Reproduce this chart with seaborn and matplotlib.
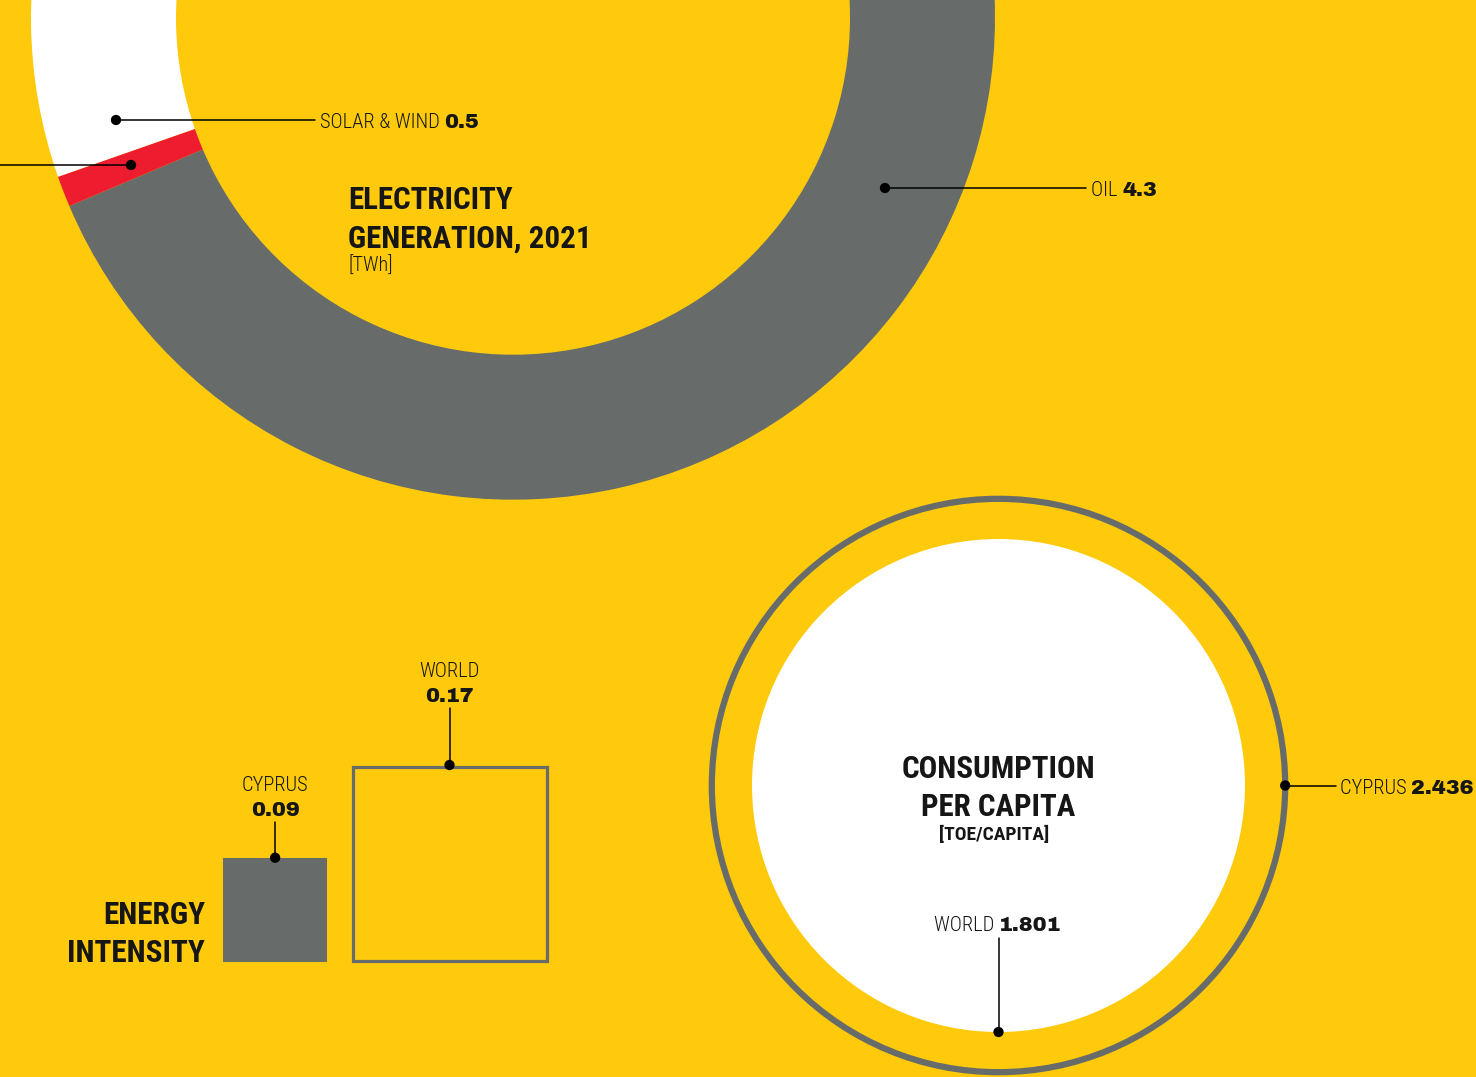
import numpy as np
import pandas as pd
import matplotlib
matplotlib.use("Agg")
import matplotlib.pyplot as plt
from matplotlib.patches import Rectangle, Circle
import seaborn as sns

# ---------------- data ----------------
gen_labels = ["OIL", "SOLAR & WIND", "OTHER"]
gen_values = [4.3, 0.5, 0.05]          # TWh, electricity generation 2021
gen_colors = ["#676C6B", "#FFFFFF", "#ED1C2E"]

intensity_labels = ["CYPRUS", "WORLD"]
intensity_values = [0.09, 0.17]

cons_labels = ["CYPRUS", "WORLD"]
cons_values = [2.436, 1.801]            # TOE / capita

# ---------------- style ----------------
YELLOW = "#FECA0B"
GRAY = "#676C6B"
INK = "#161616"
sns.set_style("white")
COND = ["Roboto Condensed", "Liberation Sans Narrow", "DejaVu Sans"]
NUM = ["Archivo Black", "DejaVu Sans"]
plt.rcParams["font.family"] = COND

LBL = 14.8   # label font size (pt)
NSZ = 15.0   # number font size (pt)
TSZ = 22.3   # title font size (pt)

W, H = 1476, 1077
fig = plt.figure(figsize=(W / 100, H / 100), dpi=100, facecolor=YELLOW)
ax = fig.add_axes([0, 0, 1, 1])
ax.set_facecolor(YELLOW)


def Y(py):
    return H - py


def name_text(x, base, s, ha="left", **kw):
    return ax.text(x, Y(base), s, fontsize=LBL, family=COND, fontweight=300, color=INK,
                   va="baseline", ha=ha, **kw)


def num_text(x, base, s, ha="left"):
    return ax.text(x, Y(base), s, fontsize=NSZ, family=NUM, color=INK,
                   va="baseline", ha=ha)


def label(x, base, name, value):
    t = name_text(x, base, name + " ")
    ax.annotate(value, xy=(1, 0), xycoords=t, xytext=(0, 0), textcoords="offset points",
                fontsize=NSZ, family=NUM, color=INK, va="bottom", ha="left")
    return t


def title(x, base, s, ha="left", size=TSZ):
    return ax.text(x, Y(base), s, fontsize=size, family=COND, fontweight="bold",
                   color=INK, va="baseline", ha=ha)


dots = []

# ---------------- donut: electricity generation ----------------
cx, cy, R, ring = 513, Y(17.7), 482, 145
ax.pie(gen_values, colors=gen_colors, startangle=203, counterclock=True,
       radius=R, center=(cx, cy), wedgeprops=dict(width=ring, linewidth=0))

dots += [(885, 188), (116, 120), (131, 165)]
ax.plot([885, 1086], [Y(188), Y(188)], color="black", lw=1.1)
ax.plot([116, 315], [Y(120), Y(120)], color="black", lw=1.1)
ax.plot([0, 131], [Y(165), Y(165)], color="black", lw=1.1)
label(1091, 195.5, gen_labels[0], f"{gen_values[0]}")
label(320, 127.5, gen_labels[1], f"{gen_values[1]}")

title(348, 209, "ELECTRICITY")
title(348, 248, "GENERATION, 2021")
ax.text(349, Y(272), "[TWh]", fontsize=14.5, family=COND, fontweight=300,
        color=INK, va="baseline", ha="left")

# ---------------- squares: energy intensity ----------------
k = 197 / 0.17
base = 962
lefts = [223, 351]
stems = [36, 57]
for i, v in enumerate(intensity_values):
    s = v * k
    if i == 0:
        ax.add_patch(Rectangle((lefts[i], Y(base)), s, s, facecolor=GRAY, edgecolor="none"))
    else:
        ax.add_patch(Rectangle((lefts[i] + 1.5, Y(base) + 1.5), s - 3, s - 3,
                               facecolor="none", edgecolor=GRAY, lw=2.3))
    xc = lefts[i] + s / 2
    top = base - s
    dots.append((xc, top))
    ax.plot([xc, xc], [Y(top), Y(top - stems[i])], color="black", lw=1.1)
    num_text(xc, top - stems[i] - 6, f"{v}", ha="center")
    name_text(xc, top - stems[i] - 31, intensity_labels[i], ha="center")

title(205, 924.5, "ENERGY", ha="right", size=22.5)
title(205, 961.5, "INTENSITY", ha="right", size=22.5)

# ---------------- circles: consumption per capita ----------------
ccx, ccy = 998.5, Y(785.5)
r_world = 246.5
r_cyp = r_world * np.sqrt(cons_values[0] / cons_values[1])
ax.add_patch(Circle((ccx, ccy), r_world, facecolor="white", edgecolor="none"))
ax.add_patch(Circle((ccx, ccy), r_cyp, facecolor="none", edgecolor=GRAY, lw=4.5))

dots.append((ccx + r_cyp, H - ccy))
dots.append((ccx, H - (ccy - r_world)))
ax.plot([ccx + r_cyp, ccx + r_cyp + 51], [ccy, ccy], color="black", lw=1.1)
label(ccx + r_cyp + 55, 794, cons_labels[0], f"{cons_values[0]}")
ax.plot([ccx, ccx], [ccy - r_world, Y(938)], color="black", lw=1.1)
tw = name_text(ccx, 931, cons_labels[1] + " ", ha="right")
ax.annotate(f"{cons_values[1]}", xy=(1, 0), xycoords=tw, xytext=(0, 0),
            textcoords="offset points", fontsize=NSZ, family=NUM, color=INK,
            va="bottom", ha="left")

title(998, 778, "CONSUMPTION", ha="center")
title(998, 816, "PER CAPITA", ha="center")
ax.text(994, Y(840), "[TOE/CAPITA]", fontsize=14, family=COND, fontweight="bold",
        color=INK, ha="center", va="baseline")

# dots via seaborn
dots_df = pd.DataFrame({"x": [d[0] for d in dots], "y": [Y(d[1]) for d in dots]})
sns.scatterplot(data=dots_df, x="x", y="y", ax=ax, color="black", s=55,
                edgecolor="none", legend=False, zorder=10)

ax.set_xlim(0, W)
ax.set_ylim(0, H)
ax.set_aspect("equal")
ax.axis("off")
fig.savefig("out.png", dpi=100, facecolor=YELLOW)
